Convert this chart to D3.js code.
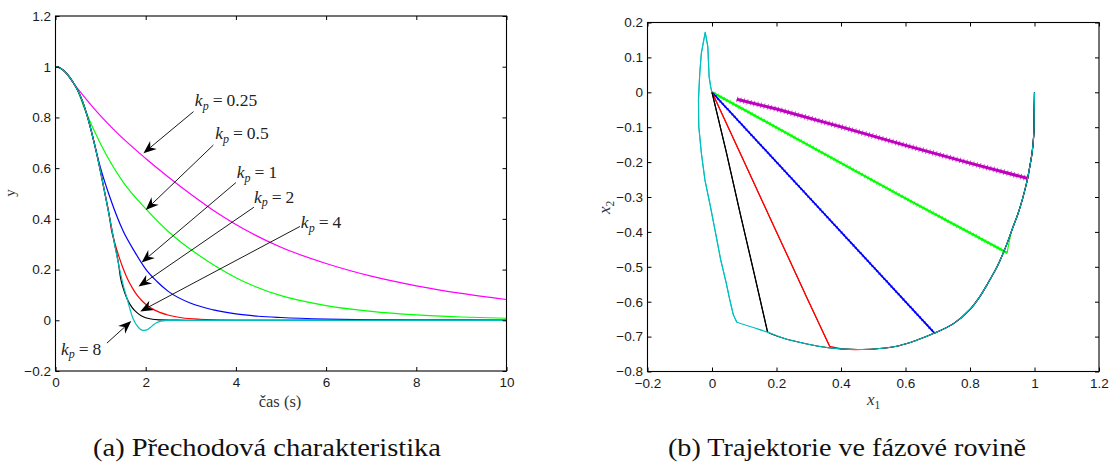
<!DOCTYPE html>
<html>
<head>
<meta charset="utf-8">
<script src="https://cdn.jsdelivr.net/npm/d3@7"></script>
<style>
  body { margin: 0; background: #fff; }
  svg { display: block; }
</style>
</head>
<body>
<svg id="fig" width="1114" height="467"></svg>
<script>
// ---------- (a) step responses y(t) ----------
// gain values shown in the annotations
const kpValues = [0.25, 0.5, 1, 2, 4, 8];

// shared initial part of the response (before the controller switches)
const tShared = [0, 0.1, 0.2, 0.3, 0.4, 0.5, 0.6, 0.7, 0.8, 0.9, 1.0, 1.1, 1.2, 1.3, 1.4, 1.5, 1.6];
const yShared = [1, 0.995, 0.982, 0.962, 0.936, 0.904, 0.863, 0.808, 0.742, 0.668, 0.585, 0.497, 0.405, 0.31, 0.22, 0.14, 0.077];

// individual tails after the switching instant
const tKp025 = [0.2, 0.4, 0.62, 1.0, 1.36, 2.0, 2.5, 3.0, 3.58, 4.0, 4.31, 5, 6, 7, 8, 9, 10];
const yKp025 = [0.982, 0.934, 0.885, 0.806, 0.74, 0.638, 0.565, 0.497, 0.424, 0.378, 0.347, 0.288, 0.224, 0.174, 0.136, 0.106, 0.082];
const tKp05 = [0.47, 0.62, 1.0, 1.5, 2.0, 2.5, 2.84, 3.0, 3.58, 4.0, 4.31, 5, 6, 7, 8, 9, 10];
const yKp05 = [0.915, 0.845, 0.695, 0.545, 0.44, 0.35, 0.3, 0.279, 0.21, 0.168, 0.142, 0.097, 0.058, 0.035, 0.021, 0.013, 0.008];
const tKp1 = [0.87, 1.0, 1.21, 1.5, 1.75, 2.0, 2.25, 2.5, 3.0, 3.5, 4.0, 4.5, 5, 6, 7, 8, 10];
const yKp1 = [0.69, 0.6, 0.483, 0.352, 0.272, 0.202, 0.153, 0.114, 0.067, 0.041, 0.025, 0.016, 0.011, 0.005, 0.002, 0.001, 0];
const tKp2 = [1.23, 1.3, 1.4, 1.5, 1.6, 1.7, 1.8, 1.9, 2.0, 2.2, 2.47, 2.8, 3.2, 4, 10];
const yKp2 = [0.365, 0.315, 0.255, 0.204, 0.162, 0.129, 0.101, 0.08, 0.063, 0.04, 0.022, 0.01, 0.004, 0, 0];
const tKp4 = [1.44, 1.5, 1.56, 1.62, 1.7, 1.8, 1.9, 2.0, 2.15, 2.3, 2.6, 3, 10];
const yKp4 = [0.17, 0.128, 0.097, 0.073, 0.05, 0.031, 0.018, 0.01, 0.004, 0.002, 0.001, 0, 0];
const tKp8 = [1.6, 1.65, 1.7, 1.76, 1.82, 1.88, 1.94, 2.0, 2.06, 2.12, 2.18, 2.25, 2.32, 2.4, 2.5, 2.7, 10];
const yKp8 = [0.077, 0.045, 0.016, -0.008, -0.024, -0.035, -0.04, -0.039, -0.034, -0.026, -0.017, -0.009, -0.004, -0.002, 0, 0, 0];

const stepColors = ["#ff00ff", "#00ff00", "#0000ff", "#ff0000", "#000000", "#00bfbf"];

// annotation arrows: label anchor, arrow tail and arrow tip (data units of plot a)
const annLabel = ["0.25", "0.5", "1", "2", "4", "8"];
const annTextT = [3.09, 3.54, 4.02, 4.40, 5.44, 0.12];
const annTextY = [0.845, 0.714, 0.560, 0.464, 0.363, -0.136];
const annTailT = [3.06, 3.50, 4.00, 4.40, 5.42, 1.14];
const annTailY = [0.823, 0.691, 0.543, 0.446, 0.370, -0.090];
const annTipT  = [1.95, 2.00, 1.91, 1.84, 1.88, 1.68];
const annTipY  = [0.659, 0.435, 0.228, 0.133, 0.035, -0.003];

const xTicksA = [0, 2, 4, 6, 8, 10];
const xLabelsA = ["0", "2", "4", "6", "8", "10"];
const yTicksA = [-0.2, 0, 0.2, 0.4, 0.6, 0.8, 1, 1.2];
const yLabelsA = ["\u22120.2", "0", "0.2", "0.4", "0.6", "0.8", "1", "1.2"];

// ---------- (b) phase-plane trajectories (x1, x2) ----------
// common arc starting at (1, 0) before switching
const arcX1 = [1, 0.999, 0.998, 0.993, 0.985, 0.975, 0.962, 0.948, 0.931, 0.912, 0.885, 0.855, 0.83, 0.8, 0.75, 0.69, 0.63, 0.58, 0.52, 0.465, 0.41, 0.361, 0.31, 0.274, 0.22, 0.175, 0.12, 0.077];
const arcX2 = [0, -0.06, -0.117, -0.17, -0.215, -0.262, -0.308, -0.35, -0.392, -0.44, -0.498, -0.548, -0.586, -0.622, -0.662, -0.69, -0.712, -0.726, -0.734, -0.737, -0.736, -0.732, -0.724, -0.717, -0.704, -0.688, -0.672, -0.659];

// switching lines toward the origin
const pX1Kp025 = [0.98, 0.8, 0.6, 0.4, 0.2, 0.077];
const pX2Kp025 = [-0.247, -0.203, -0.152, -0.099, -0.048, -0.02];
const pX1Kp05 = [0.915, 0.6, 0.3, 0.1, 0];
const pX2Kp05 = [-0.46, -0.304, -0.152, -0.05, 0];
const pX1Kp1 = [0.69, 0.5, 0.3, 0.1, 0];
const pX2Kp1 = [-0.69, -0.5, -0.3, -0.1, 0];
const pX1Kp2 = [0.365, 0.3, 0.2, 0.1, 0];
const pX2Kp2 = [-0.728, -0.6, -0.4, -0.2, 0];
const pX1Kp4 = [0.172, 0.131, 0.088, 0.044, 0];
const pX2Kp4 = [-0.686, -0.52, -0.35, -0.17, 0];
const pX1Kp8 = [0.077, 0.066, 0.055, 0.044, 0.027, 0.011, -0.005, -0.022, -0.033, -0.041, -0.042, -0.038, -0.033, -0.021, -0.013, -0.009, -0.004, 0];
const pX2Kp8 = [-0.659, -0.637, -0.594, -0.546, -0.48, -0.403, -0.327, -0.251, -0.174, -0.098, -0.022, 0.054, 0.112, 0.172, 0.131, 0.045, 0.015, 0];

const phaseColors = ["#bf00bf", "#00ff00", "#0000ff", "#ff0000", "#000000", "#00bfbf"];
const phaseWidths = [3.0, 2.2, 1.6, 1.2, 1.2, 1.1];
// short cross-hatch that gives the sampled trajectories their ragged edge
const raggedWidths = [5.6, 4.0, 2.8, 0, 0, 0];

const xTicksB = [-0.2, 0, 0.2, 0.4, 0.6, 0.8, 1, 1.2];
const xLabelsB = ["\u22120.2", "0", "0.2", "0.4", "0.6", "0.8", "1", "1.2"];
const yTicksB = [0.2, 0.1, 0, -0.1, -0.2, -0.3, -0.4, -0.5, -0.6, -0.7, -0.8];
const yLabelsB = ["0.2", "0.1", "0", "\u22120.1", "\u22120.2", "\u22120.3", "\u22120.4", "\u22120.5", "\u22120.6", "\u22120.7", "\u22120.8"];

// ---------- drawing ----------
const svg = d3.select("#fig");
const TICK_FONT = "'Liberation Sans', Arial, sans-serif";
const TEX_FONT = "'Liberation Serif', 'Times New Roman', serif";

const xA = d3.scaleLinear().domain([0, 10]).range([55.5, 506.5]);
const yA = d3.scaleLinear().domain([-0.2, 1.2]).range([371, 16]);
const xB = d3.scaleLinear().domain([-0.2, 1.2]).range([647.5, 1099]);
const yB = d3.scaleLinear().domain([-0.8, 0.2]).range([371.5, 22.5]);

function frame(x, y, xt, xl, yt, yl) {
  const g = svg.append("g");
  const [x0, x1] = x.range();
  const [y0, y1] = y.range();
  const style = sel => {
    sel.select(".domain").remove();
    sel.attr("font-family", TICK_FONT).attr("font-size", 13.5);
    sel.selectAll("text").attr("fill", "#1a1a1a");
    sel.selectAll("line").attr("stroke", "#000").attr("stroke-width", 1);
  };
  g.append("g").attr("transform", `translate(0,${y0})`)
    .call(d3.axisBottom(x).tickValues(xt).tickFormat((d, i) => xl[i]).tickSizeInner(-4).tickSizeOuter(0).tickPadding(6.5))
    .call(style);
  g.append("g").attr("transform", `translate(0,${y1})`)
    .call(d3.axisTop(x).tickValues(xt).tickFormat("").tickSizeInner(-4).tickSizeOuter(0))
    .call(style);
  g.append("g").attr("transform", `translate(${x0},0)`)
    .call(d3.axisLeft(y).tickValues(yt).tickFormat((d, i) => yl[i]).tickSizeInner(-4).tickSizeOuter(0).tickPadding(4.5))
    .call(style);
  g.append("g").attr("transform", `translate(${x1},0)`)
    .call(d3.axisRight(y).tickValues(yt).tickFormat("").tickSizeInner(-4).tickSizeOuter(0))
    .call(style);
  g.append("rect")
    .attr("x", x0).attr("y", y1).attr("width", x1 - x0).attr("height", y0 - y1)
    .attr("fill", "none").attr("stroke", "#000").attr("stroke-width", 1.1);
}

// ---- plot (a)
const tails = [[tKp025, yKp025], [tKp05, yKp05], [tKp1, yKp1], [tKp2, yKp2], [tKp4, yKp4], [tKp8, yKp8]];
const stepLine = d3.line().x(d => xA(d[0])).y(d => yA(d[1])).curve(d3.curveMonotoneX);
const gA = svg.append("g");
tails.forEach(([tt, yy], i) => {
  const pts = [];
  tShared.forEach((t, j) => { if (t < tt[0]) pts.push([t, yShared[j]]); });
  tt.forEach((t, j) => pts.push([t, yy[j]]));
  gA.append("path").attr("d", stepLine(pts))
    .attr("fill", "none").attr("stroke", stepColors[i]).attr("stroke-width", 1.2);
});

frame(xA, yA, xTicksA, xLabelsA, yTicksA, yLabelsA);

// annotation arrows with notched heads
function arrow(g, sx, sy, ex, ey) {
  const dx = ex - sx, dy = ey - sy, len = Math.hypot(dx, dy);
  const ux = dx / len, uy = dy / len, px = -uy, py = ux;
  const L = 13, W = 5.2, N = 9;
  g.append("line").attr("x1", sx).attr("y1", sy)
    .attr("x2", ex - ux * N).attr("y2", ey - uy * N)
    .attr("stroke", "#000").attr("stroke-width", 0.9);
  const pts = [
    [ex, ey],
    [ex - ux * L + px * W, ey - uy * L + py * W],
    [ex - ux * N, ey - uy * N],
    [ex - ux * L - px * W, ey - uy * L - py * W]
  ];
  g.append("path").attr("d", "M" + pts.map(p => p.join(",")).join("L") + "Z").attr("fill", "#000");
}

function kpLabel(g, x, y, value) {
  const t = g.append("text").attr("x", x).attr("y", y)
    .attr("font-family", TEX_FONT).attr("font-size", 17.5).attr("fill", "#222");
  t.append("tspan").attr("font-style", "italic").text("k");
  t.append("tspan").attr("font-style", "italic").attr("font-size", 12).attr("dy", 3.5).text("p");
  t.append("tspan").attr("dy", -3.5).attr("dx", 4).text("=");
  t.append("tspan").attr("dx", 4).text(value);
}

kpValues.forEach((kp, i) => {
  arrow(gA, xA(annTailT[i]), yA(annTailY[i]), xA(annTipT[i]), yA(annTipY[i]));
  kpLabel(gA, xA(annTextT[i]), yA(annTextY[i]), annLabel[i]);
});

svg.append("text").attr("transform", "translate(15,193) rotate(-90)")
  .attr("text-anchor", "middle").attr("font-family", TEX_FONT).attr("font-size", 15).attr("fill", "#333")
  .text("y");
svg.append("text").attr("x", 280).attr("y", 407).attr("text-anchor", "middle")
  .attr("font-family", TEX_FONT).attr("font-size", 16.5).attr("fill", "#333")
  .text("čas (s)");

// ---- plot (b)
const paths = [[pX1Kp025, pX2Kp025], [pX1Kp05, pX2Kp05], [pX1Kp1, pX2Kp1], [pX1Kp2, pX2Kp2], [pX1Kp4, pX2Kp4], [pX1Kp8, pX2Kp8]];
const phaseLine = d3.line().x(d => xB(d[0])).y(d => yB(d[1]));
const arcLine = d3.line().x(d => xB(d[0])).y(d => yB(d[1])).curve(d3.curveCatmullRom.alpha(0.5));
const gB = svg.append("g");
paths.forEach(([px, py], i) => {
  const arc = [];
  arcX1.forEach((v, j) => { if (v > px[0]) arc.push([v, arcX2[j]]); });
  arc.push([px[0], py[0]]);
  const line = px.map((v, j) => [v, py[j]]);
  gB.append("path").attr("d", arcLine(arc) + phaseLine(line).replace(/^M/, "L"))
    .attr("fill", "none").attr("stroke", phaseColors[i])
    .attr("stroke-width", 1.1).attr("stroke-linejoin", "round");
  gB.append("path").attr("d", phaseLine(line))
    .attr("fill", "none").attr("stroke", phaseColors[i])
    .attr("stroke-width", phaseWidths[i]).attr("stroke-linejoin", "round");
  if (raggedWidths[i] > 0) {
    gB.append("path").attr("d", phaseLine(line))
      .attr("fill", "none").attr("stroke", phaseColors[i]).attr("stroke-opacity", 0.75)
      .attr("stroke-width", raggedWidths[i]).attr("stroke-dasharray", "0.9 2.6");
  }
});

frame(xB, yB, xTicksB, xLabelsB, yTicksB, yLabelsB);

const x1Lab = svg.append("text").attr("x", 867).attr("y", 405)
  .attr("font-family", TEX_FONT).attr("font-size", 17).attr("fill", "#333");
x1Lab.append("tspan").attr("font-style", "italic").text("x");
x1Lab.append("tspan").attr("font-size", 11.5).attr("dy", 3.5).text("1");

const x2Lab = svg.append("text").attr("transform", "translate(610,214) rotate(-90)")
  .attr("font-family", TEX_FONT).attr("font-size", 17).attr("fill", "#333");
x2Lab.append("tspan").attr("font-style", "italic").text("x");
x2Lab.append("tspan").attr("font-size", 11.5).attr("dy", 3.5).text("2");

// ---- captions
svg.append("text").attr("x", 93).attr("y", 456)
  .attr("font-family", TEX_FONT).attr("font-size", 25).attr("fill", "#111")
  .attr("textLength", 348).attr("lengthAdjust", "spacingAndGlyphs")
  .text("(a) Přechodová charakteristika");
svg.append("text").attr("x", 847).attr("y", 456).attr("text-anchor", "middle")
  .attr("font-family", TEX_FONT).attr("font-size", 25).attr("fill", "#111")
  .attr("textLength", 358).attr("lengthAdjust", "spacingAndGlyphs")
  .text("(b) Trajektorie ve fázové rovině");
</script>
</body>
</html>
